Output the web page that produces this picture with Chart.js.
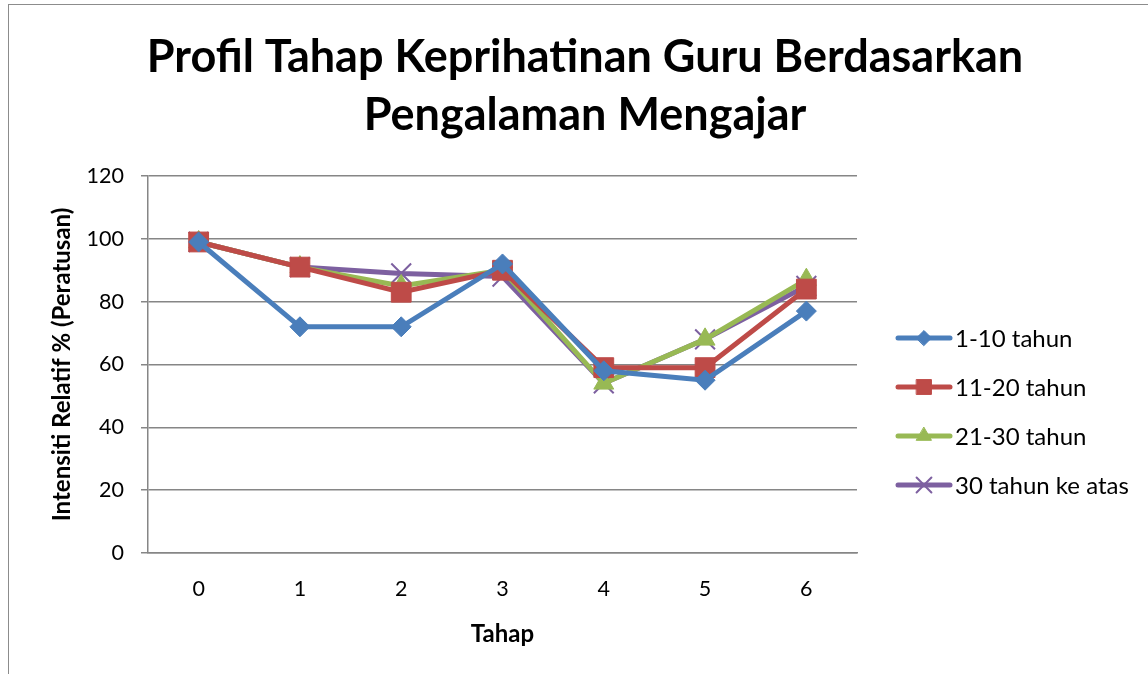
<!DOCTYPE html>
<html>
<head>
<meta charset="utf-8">
<script src="https://cdn.jsdelivr.net/npm/chart.js@4"></script>
<style>
    html, body { margin: 0; padding: 0; background: #fff; }
    #wrap { position: relative; width: 1148px; height: 674px; }
</style>
</head>
<body>
<div id="wrap"><canvas id="chart" width="1148" height="674"></canvas></div>
<script>
const tahap = ['0', '1', '2', '3', '4', '5', '6'];
const seriesNames = ['1-10 tahun', '11-20 tahun', '21-30 tahun', '30 tahun ke atas'];
const tahun1to10 = [99, 72, 72, 92, 58, 55, 77];
const tahun11to20 = [99, 91, 83, 90, 59, 59, 84];
const tahun21to30 = [99, 91, 85, 90, 54, 68, 87];
const tahun30plus = [99, 91, 89, 88, 54, 68, 85];
const yTicks = [0, 20, 40, 60, 80, 100, 120];
const titleLines = ['Profil Tahap Keprihatinan Guru Berdasarkan', 'Pengalaman Mengajar'];

const fontFamily = 'Lato, "Open Sans", "Noto Sans", sans-serif';

const styles = [
    { color: '#4a7ebb', pointStyle: 'rectRot', radius: 10 },
    { color: '#be4b48', pointStyle: 'rect', radius: 14 },
    { color: '#98b954', pointStyle: 'triangle', radius: 11.5 },
    { color: '#7d60a0', pointStyle: 'crossRot', radius: 14 },
];

const values = [tahun1to10, tahun11to20, tahun21to30, tahun30plus];

// title drawn here so it can be centred on the whole picture, not just the plot side
const bigTitle = {
    id: 'bigTitle',
    afterDraw(chart) {
        const ctx = chart.ctx;
        ctx.save();
        ctx.fillStyle = '#000';
        ctx.font = `bold 45px ${fontFamily}`;
        ctx.textAlign = 'center';
        ctx.textBaseline = 'alphabetic';
        ctx.fillText(titleLines[0], 585, 72);
        ctx.fillText(titleLines[1], 585, 130);
        ctx.restore();
    },
};

// legend drawn by hand so each entry shows line + marker like Excel
const sideLegend = {
    id: 'sideLegend',
    afterDraw(chart) {
        const ctx = chart.ctx;
        ctx.save();
        chart.data.datasets.forEach((ds, i) => {
            const y = 338 + i * 49;
            ctx.strokeStyle = ds.borderColor;
            ctx.lineWidth = 5;
            ctx.lineCap = 'round';
            ctx.beginPath();
            ctx.moveTo(898, y);
            ctx.lineTo(950, y);
            ctx.stroke();
            ctx.fillStyle = ds.borderColor;
            ctx.strokeStyle = ds.borderColor;
            ctx.lineWidth = ds.pointStyle === 'crossRot' ? 2 : 1;
            Chart.helpers.drawPoint(ctx, { pointStyle: ds.pointStyle, radius: ds.pointRadius * 0.75, rotation: 0, borderWidth: ctx.lineWidth }, 924, y);
            ctx.fillStyle = '#000';
            ctx.font = `24px ${fontFamily}`;
            ctx.textBaseline = 'middle';
            ctx.textAlign = 'left';
            ctx.fillText(ds.label, 955, y + 1);
        });
        ctx.restore();
    },
};

const frame = {
    id: 'frame',
    beforeDraw(chart) {
        const ctx = chart.ctx;
        ctx.save();
        ctx.fillStyle = '#fff';
        ctx.fillRect(0, 0, chart.width, chart.height);
        ctx.strokeStyle = '#8c8c8c';
        ctx.lineWidth = 1;
        ctx.strokeRect(8.5, 4.5, 1300, 800);
        ctx.restore();
    },
};

new Chart(document.getElementById('chart'), {
    type: 'line',
    data: {
        labels: tahap,
        datasets: values.map((v, i) => ({
            label: seriesNames[i],
            data: v,
            borderColor: styles[i].color,
            backgroundColor: styles[i].color,
            pointBackgroundColor: styles[i].color,
            pointBorderColor: styles[i].color,
            pointStyle: styles[i].pointStyle,
            pointRadius: styles[i].radius,
            pointBorderWidth: styles[i].pointStyle === 'crossRot' ? 2 : 1,
            borderWidth: 5,
            tension: 0,
            fill: false,
        })),
    },
    options: {
        responsive: false,
        animation: false,
        layout: { padding: { left: 0, right: 291, top: 176, bottom: 0 } },
        plugins: {
            legend: { display: false },
            tooltip: { enabled: false },
            title: { display: false },
        },
        scales: {
            x: {
                offset: true,
                grid: { display: false, drawTicks: false },
                border: { color: '#868686', width: 1.5 },
                ticks: { color: '#000', font: { family: fontFamily, size: 21.5 }, padding: 23 },
                title: { display: true, text: 'Tahap', color: '#000', font: { family: fontFamily, size: 24, weight: 'bold' }, padding: { top: 25, bottom: 25 } },
                afterFit(scale) { scale.height = 121; },
            },
            y: {
                min: 0,
                max: 120,
                afterBuildTicks(scale) { scale.ticks = yTicks.map((v) => ({ value: v })); },
                grid: { color: '#868686', lineWidth: 1.5, tickLength: 7 },
                border: { color: '#868686', width: 1.5 },
                ticks: { color: '#000', font: { family: fontFamily, size: 21.5 }, padding: 17 },
                title: { display: true, text: 'Intensiti Relatif % (Peratusan)', color: '#000', font: { family: fontFamily, size: 24, weight: 'bold' }, padding: { top: 48, bottom: 48 } },
                afterFit(scale) { scale.width = 148; },
            },
        },
    },
    plugins: [frame, sideLegend, bigTitle],
});
</script>
</body>
</html>
